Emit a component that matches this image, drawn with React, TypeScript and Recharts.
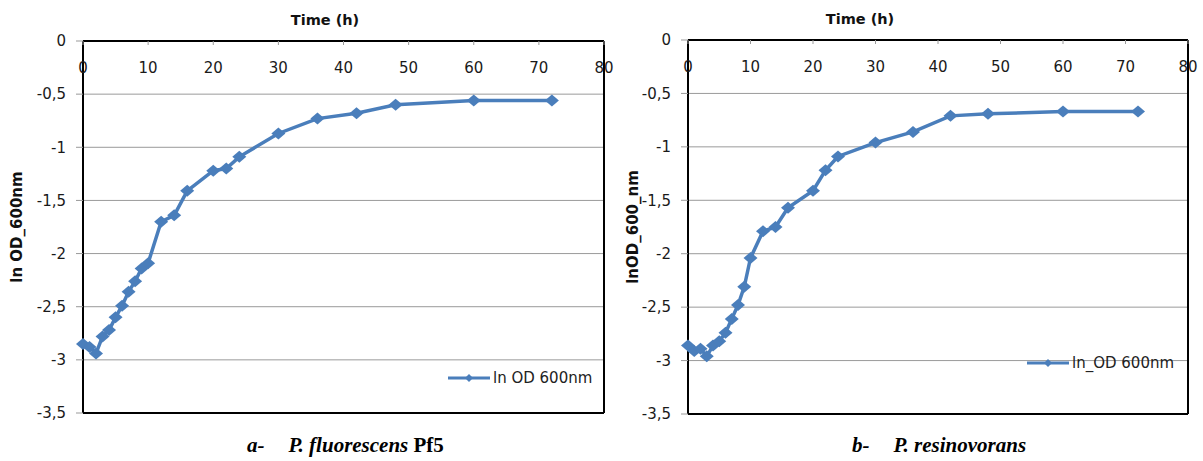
import React from 'react';
import { LineChart, Line, XAxis, YAxis, CartesianGrid, ReferenceLine, Legend } from 'recharts';

// sampling times (h), same for both strains
const hours = [0, 1, 2, 3, 4, 5, 6, 7, 8, 9, 10, 12, 14, 16, 20, 22, 24, 30, 36, 42, 48, 60, 72];

// ln OD600
const pf5Values = [
    -2.85, -2.88, -2.94, -2.78, -2.72, -2.60, -2.49, -2.36, -2.26, -2.14, -2.09,
    -1.70, -1.64, -1.41, -1.22, -1.20, -1.09, -0.87, -0.73, -0.68, -0.60, -0.56, -0.56,
];
const resinovoransValues = [
    -2.86, -2.91, -2.89, -2.96, -2.86, -2.82, -2.74, -2.61, -2.48, -2.31, -2.04,
    -1.79, -1.75, -1.57, -1.41, -1.22, -1.09, -0.96, -0.86, -0.71, -0.69, -0.67, -0.67,
];

const xTicks = [0, 10, 20, 30, 40, 50, 60, 70, 80];
const yTicks = [0, -0.5, -1, -1.5, -2, -2.5, -3, -3.5];

const BLUE = '#4a7ebb';
const FONT = '"DejaVu Sans", sans-serif';

const formatComma = (v: number) => (v === 0 ? '0' : String(v).replace('.', ','));

const Diamond = (props: any) => {
    const { cx, cy } = props;
    if (cx == null || cy == null) return null;
    return (
        <polygon
            points={`${cx},${cy - 6} ${cx + 7},${cy} ${cx},${cy + 6} ${cx - 7},${cy}`}
            fill={BLUE}
        />
    );
};

const XTick = (props: any) => {
    const { x, y, payload } = props;
    return (
        <g>
            <line x1={x} y1={y} x2={x} y2={y + 4} stroke="#999" />
            <text x={x} y={y + 32} textAnchor="middle" fontSize={15} fontFamily={FONT} fill="#1a1a1a">
                {payload.value}
            </text>
        </g>
    );
};

const LegendItem = ({ name }: { name: string }) => (
    <div style={{ display: 'flex', alignItems: 'center', fontFamily: FONT, fontSize: 15, color: '#222' }}>
        <svg width={44} height={12}>
            <line x1={0} y1={6} x2={42} y2={6} stroke={BLUE} strokeWidth={3} />
            <polygon points="21,2 25,6 21,10 17,6" fill={BLUE} />
        </svg>
        <span style={{ marginLeft: 1 }}>{name}</span>
    </div>
);

type PanelProps = {
    values: number[];
    seriesName: string;
    yLabel: string;
    left: number;
    width: number;
    yAxisWidth: number;
    top: number;
    bottom: number;
    right: number;
    titleX: number;
    yLabelX: number;
    legendLeft: number;
    legendTop: number;
};

const GrowthPanel: React.FC<PanelProps> = (p) => {
    const data = hours.map((t, i) => ({ t, v: p.values[i] }));
    return (
        <div style={{ position: 'absolute', left: p.left, top: 0 }}>
            <LineChart
                width={p.width}
                height={430}
                data={data}
                margin={{ top: p.top - 1, right: p.right, bottom: p.bottom, left: 0 }}
            >
                <CartesianGrid vertical={false} stroke="#9a9a9a" />
                <XAxis
                    dataKey="t"
                    type="number"
                    orientation="top"
                    domain={[0, 80]}
                    ticks={xTicks}
                    height={1}
                    tickSize={0}
                    tickMargin={0}
                    tickLine={false}
                    axisLine={{ stroke: '#000', strokeWidth: 2 }}
                    tick={<XTick />}
                    interval={0}
                    label={{
                        content: (lp: any) => {
                            const vb = lp.viewBox || {};
                            return (
                                <text
                                    x={p.titleX}
                                    y={(vb.y ?? p.top) - 15}
                                    textAnchor="middle"
                                    fontSize={14.5}
                                    fontWeight="bold"
                                    fontFamily={FONT}
                                    fill="#111"
                                >
                                    Time (h)
                                </text>
                            );
                        },
                    }}
                />
                <YAxis
                    type="number"
                    domain={[-3.5, 0]}
                    ticks={yTicks}
                    width={p.yAxisWidth}
                    tickFormatter={formatComma}
                    tickSize={7}
                    tickMargin={10}
                    tickLine={{ stroke: '#999' }}
                    axisLine={{ stroke: '#000', strokeWidth: 2 }}
                    tick={{ fontSize: 15, fontFamily: FONT, fill: '#1a1a1a' }}
                    interval={0}
                    label={{
                        content: (lp: any) => {
                            const vb = lp.viewBox || {};
                            const cy = (vb.y ?? 0) + (vb.height ?? 0) / 2;
                            return (
                                <text
                                    transform={`translate(${p.yLabelX},${cy}) rotate(-90)`}
                                    textAnchor="middle"
                                    dominantBaseline="central"
                                    fontSize={15}
                                    fontWeight="bold"
                                    fontFamily={FONT}
                                    fill="#111"
                                >
                                    {p.yLabel}
                                </text>
                            );
                        },
                    }}
                />
                <ReferenceLine y={-3.5} stroke="#000" strokeWidth={2} />
                <ReferenceLine x={80} stroke="#000" strokeWidth={2} />
                <Legend
                    layout="horizontal"
                    verticalAlign="middle"
                    align="center"
                    wrapperStyle={{ left: p.legendLeft, top: p.legendTop, width: 170 }}
                    content={() => <LegendItem name={p.seriesName} />}
                />
                <Line
                    type="linear"
                    dataKey="v"
                    name={p.seriesName}
                    stroke={BLUE}
                    strokeWidth={3.5}
                    dot={<Diamond />}
                    activeDot={false}
                    isAnimationActive={false}
                />
            </LineChart>
        </div>
    );
};

const captionStyle: React.CSSProperties = {
    position: 'absolute',
    top: 433,
    fontFamily: '"Liberation Serif", "Times New Roman", serif',
    fontWeight: 'bold',
    fontSize: 21,
    whiteSpace: 'nowrap',
    color: '#000',
};

export default function App() {
    return (
        <div style={{ position: 'absolute', left: 0, top: 0, width: 1203, height: 461, background: '#fff', overflow: 'hidden' }}>
            <GrowthPanel
                values={pf5Values}
                seriesName="ln OD 600nm"
                yLabel="ln OD_600nm"
                left={0}
                width={622}
                yAxisWidth={83}
                top={41}
                bottom={17}
                right={18}
                titleX={325}
                yLabelX={17}
                legendLeft={448}
                legendTop={369}
            />
            <GrowthPanel
                values={resinovoransValues}
                seriesName="ln_OD 600nm"
                yLabel="lnOD_600_nm"
                left={600}
                width={600}
                yAxisWidth={88}
                top={40}
                bottom={16}
                right={12}
                titleX={260}
                yLabelX={33}
                legendLeft={427}
                legendTop={354}
            />
            <div style={{ ...captionStyle, left: 247 }}>
                <i>a-</i>
                <span style={{ marginLeft: 24 }}><i>P. fluorescens</i> Pf5</span>
            </div>
            <div style={{ ...captionStyle, left: 852 }}>
                <i>b-</i>
                <span style={{ marginLeft: 24 }}><i>P. resinovorans</i></span>
            </div>
        </div>
    );
}
